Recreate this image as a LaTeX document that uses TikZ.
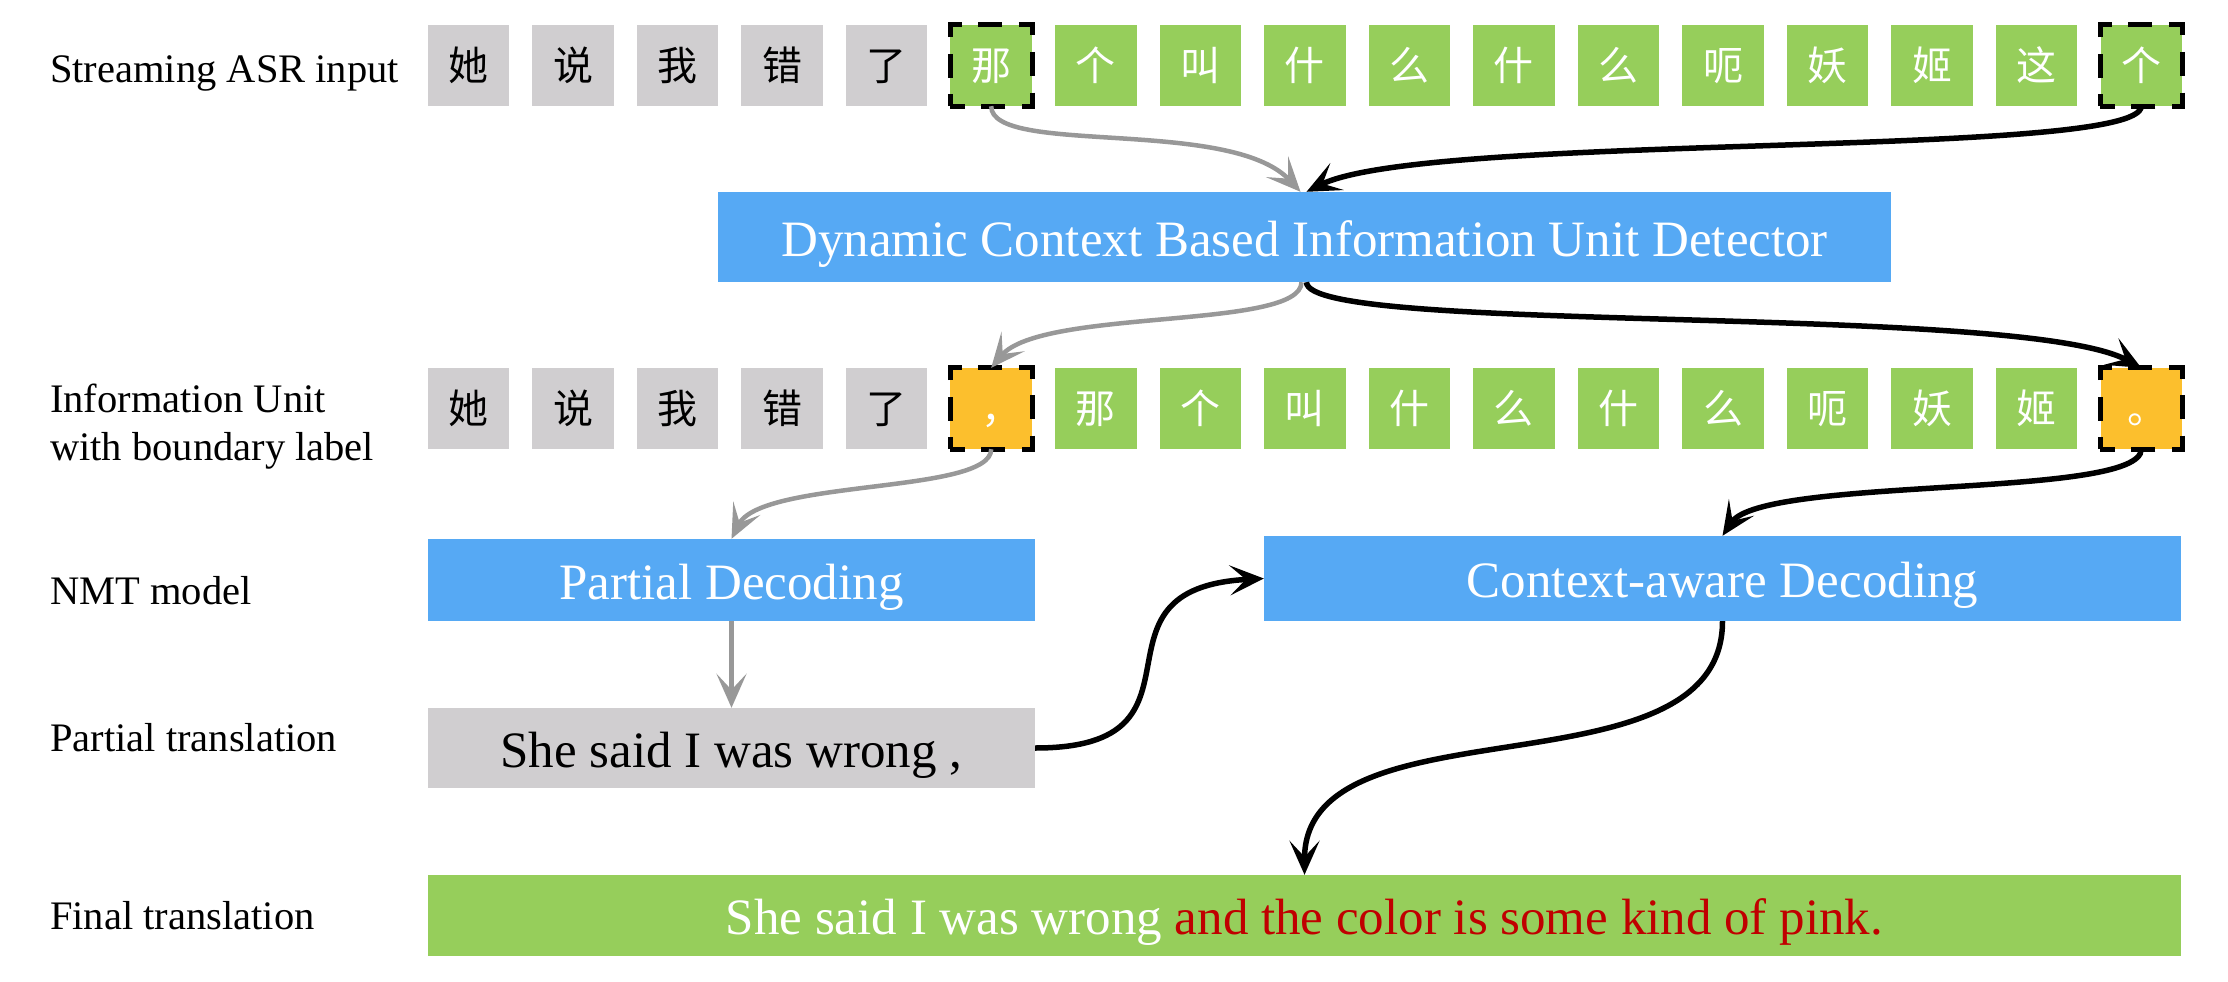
\documentclass[tikz,border=0pt]{standalone}
\usepackage{fontspec}
\setmainfont{Liberation Serif}
\newfontfamily\cjk{Noto Sans CJK SC}
\usetikzlibrary{arrows.meta}
\definecolor{tokgray}{RGB}{208,206,208}
\definecolor{tokgreen}{RGB}{150,206,91}
\definecolor{boxblue}{RGB}{86,169,244}
\definecolor{tokorange}{RGB}{252,191,45}
\definecolor{arrgray}{RGB}{152,152,152}
\definecolor{pinkred}{RGB}{192,0,0}
\begin{document}
\begin{tikzpicture}[x=1pt,y=-1pt,
  tok/.style={minimum width=81.5pt, minimum height=81pt, inner sep=0pt,
    text height=30pt, text depth=0pt, font=\cjk\fontsize{40}{40}\selectfont},
  gtok/.style={tok, fill=tokgray, text=black},
  ntok/.style={tok, fill=tokgreen, text=white},
  otok/.style={tok, fill=tokorange, text=white},
  bigbox/.style={inner sep=0pt, text height=38pt, text depth=0pt,
    font=\fontsize{51}{51}\selectfont},
  lbl/.style={anchor=base west, inner sep=0pt, font=\fontsize{40.5}{48}\selectfont},
  dashbox/.style={draw=black, line width=5pt, dash pattern=on 24pt off 16.5pt, dash phase=12pt},
  garr/.style={draw=arrgray, line width=4.5pt, -{Stealth[length=34pt,width=30pt,inset=16pt]}},
  barr/.style={draw=black, line width=5.5pt, -{Stealth[length=34pt,width=30pt,inset=16pt]}}
]
\fill[white] (0,0) rectangle (2228,982);
\useasboundingbox (0,0) rectangle (2228,982);

% left labels
\node[lbl] (l1) at (50,82) {Streaming ASR input};
\node[lbl] (l2a) at (50,412) {Information Unit};
\node[lbl] (l2b) at (50,460) {with boundary label};
\node[lbl] (l3) at (50,604) {NMT model};
\node[lbl] (l4) at (50,751) {Partial translation};
\node[lbl] (l5) at (50,929) {Final translation};

% row 1 tokens
\foreach \c [count=\i] in {她,说,我,错,了}
  \node[gtok] (t\i) at ({468.45+(\i-1)*104.55},65.5) {\c};
\foreach \c [count=\i from 6] in {那,个,叫,什,么,什,么,呃,妖,姬,这,个}
  \node[ntok] (t\i) at ({468.45+(\i-1)*104.55},65.5) {\c};

% row 2 tokens
\foreach \c [count=\i] in {她,说,我,错,了}
  \node[gtok] (b\i) at ({468.45+(\i-1)*104.55},408.5) {\c};
\node[otok] (b6) at ({468.45+5*104.55},408.5) {\hspace*{20pt}，};
\foreach \c [count=\i from 7] in {那,个,叫,什,么,什,么,呃,妖,姬}
  \node[ntok] (b\i) at ({468.45+(\i-1)*104.55},408.5) {\c};
\node[otok] (b17) at ({468.45+16*104.55},408.5) {\hspace*{12pt}。};

% dashed frames
\draw[dashbox] (t6.south west) rectangle (t6.north east);
\draw[dashbox] (t17.south west) rectangle (t17.north east);
\draw[dashbox] (b6.south west) rectangle (b6.north east);
\draw[dashbox] (b17.south west) rectangle (b17.north east);

% boxes
\node[bigbox, fill=boxblue, text=white, minimum width=1173pt, minimum height=90pt] (det) at (1304.5,237)
  {Dynamic Context Based Information Unit Detector};
\node[bigbox, fill=boxblue, text=white, minimum width=607pt, minimum height=82pt] (pd) at (731.5,580)
  {Partial Decoding};
\node[bigbox, fill=boxblue, text=white, minimum width=917pt, minimum height=85pt] (cad) at (1722.5,578.5)
  {Context-aware Decoding};
\node[bigbox, fill=tokgray, text=black, minimum width=607pt, minimum height=80pt] (pt) at (731.5,748)
  {She said I was wrong ,};
\node[bigbox, fill=tokgreen, text=white, minimum width=1753pt, minimum height=81pt] (ft) at (1304.5,915.5)
  {She said I was wrong \textcolor{pinkred}{and the color is some kind of pink.}};

% arrows
\draw[garr] (t6.south) .. controls +(0,50) and +(-70,-75) .. ([xshift=-4pt]det.north);
\draw[barr] (t17.south) .. controls +(0,53) and +(120,-60) .. ([xshift=2pt]det.north);
\draw[garr] ([xshift=-3pt]det.south) .. controls +(0,48) and +(50,-60) .. (b6.north);
\draw[barr] ([xshift=2pt]det.south) .. controls +(0,53) and +(-120,-65) .. (b17.north);
\draw[garr] (b6.south) .. controls +(0,45) and +(30,-60) .. (pd.north);
\draw[barr] (b17.south) .. controls +(0,50) and +(40,-60) .. (cad.north);
\draw[garr] (pd.south) -- (pt.north);
\draw[barr] (pt.east) .. controls +(190,0) and +(-190,10) .. (cad.west);
\draw[barr] (cad.south) .. controls +(0,180) and +(0,-180) .. (ft.north);
\end{tikzpicture}
\end{document}
